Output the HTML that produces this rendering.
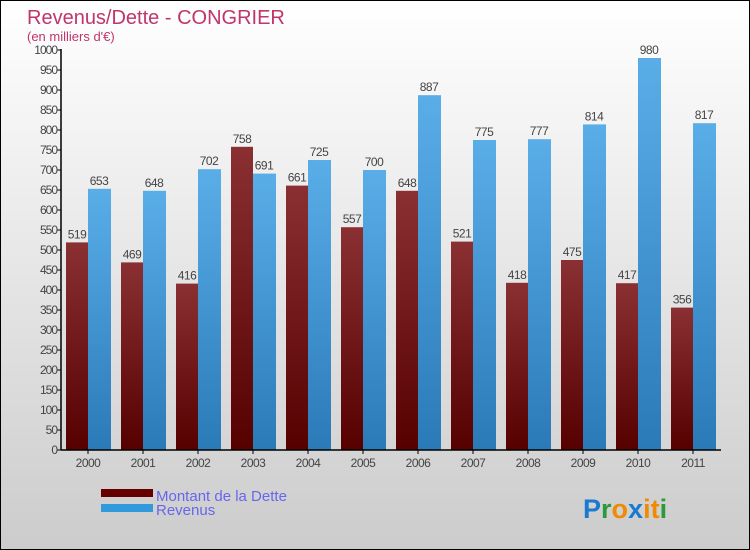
<!DOCTYPE html>
<html><head><meta charset="utf-8"><style>
body{margin:0;}
#c{position:relative;width:748px;height:548px;border:1px solid #000;background:linear-gradient(#ffffff,#cccccc);font-family:"Liberation Sans",sans-serif;overflow:hidden}
</style></head><body>
<div id="c">
<svg id="s" width="748" height="548" xmlns="http://www.w3.org/2000/svg">
<defs>
<linearGradient id="gd" x1="0" y1="0" x2="0" y2="1"><stop offset="0" stop-color="#8a3033"/><stop offset="1" stop-color="#560000"/></linearGradient>
<linearGradient id="gr" x1="0" y1="0" x2="0" y2="1"><stop offset="0" stop-color="#5aaee8"/><stop offset="1" stop-color="#2a7ab8"/></linearGradient>
</defs>
<text x="26" y="23" font-size="20" fill="#c0356a">Revenus/Dette - CONGRIER</text>
<text x="26" y="40" font-size="13" fill="#c0356a">(en milliers d'€)</text>
<g id="bars"></g>
<g id="axes"></g>
<rect x="100" y="488" width="52" height="8" fill="#660000"/>
<rect x="100" y="503" width="52" height="8" fill="#3399dd"/>
<text x="155" y="500" font-size="15" fill="#6666ee">Montant de la Dette</text>
<text x="155" y="514" font-size="15" fill="#6666ee">Revenus</text>
<text x="582" y="517" font-size="27" font-weight="bold"><tspan fill="#1a7ad0">P</tspan><tspan fill="#2a9a3a">r</tspan><tspan fill="#f08a00">o</tspan><tspan fill="#1a7ad0">x</tspan><tspan fill="#f08a00">i</tspan><tspan fill="#f08a00">t</tspan><tspan fill="#2a9a3a">i</tspan></text>
</svg></div>
<script>
const categories=["2000","2001","2002","2003","2004","2005","2006","2007","2008","2009","2010","2011"];
const dette=[519,469,416,758,661,557,648,521,418,475,417,356];
const revenus=[653,648,702,691,725,700,887,775,777,814,980,817];
const yTicks=[0,50,100,150,200,250,300,350,400,450,500,550,600,650,700,750,800,850,900,950,1000];
const NS="http://www.w3.org/2000/svg";
const x0=60,cw=55,y0=449,ys=0.4;
const X=i=>x0+i*cw, Y=v=>y0-v*ys;
function mk(t,a,p){const e=document.createElementNS(NS,t);for(const k in a)e.setAttribute(k,a[k]);p.appendChild(e);return e;}
const bars=document.getElementById('bars'),axes=document.getElementById('axes');
categories.forEach((c,i)=>{
 const d=mk('rect',{x:X(i)+5,y:Y(dette[i]),width:22,height:dette[i]*ys,fill:'url(#gd)'},bars);
 
 
 const r=mk('rect',{x:X(i)+27,y:Y(revenus[i]),width:23,height:revenus[i]*ys,fill:'url(#gr)'},bars);
 
 
 const t1=mk('text',{x:X(i)+16,y:Y(dette[i])-4,'font-size':12,fill:'#444','text-anchor':'middle','letter-spacing':'-0.5'},bars);t1.textContent=dette[i];
 
 
 const t2=mk('text',{x:X(i)+38,y:Y(revenus[i])-4,'font-size':12,fill:'#444','text-anchor':'middle','letter-spacing':'-0.5'},bars);t2.textContent=revenus[i];
 
 
 mk('line',{x1:X(i)+27,x2:X(i)+27,y1:y0,y2:y0+4,stroke:'#000'},axes);
 const xl=mk('text',{x:X(i)+27,y:y0+17,'font-size':12,fill:'#444','text-anchor':'middle','letter-spacing':'-0.5'},axes);xl.textContent=c;
 
 
});
yTicks.forEach(v=>{
 mk('line',{x1:x0-4,x2:x0,y1:Y(v),y2:Y(v),stroke:'#000'},axes);
 const t=mk('text',{x:x0-4,y:Y(v)+4,'font-size':12,fill:'#444','text-anchor':'end','letter-spacing':'-1'},axes);t.textContent=v;
 
 
});
const ya=mk('line',{x1:x0,x2:x0,y1:Y(1000)-1,y2:y0,stroke:'#000','stroke-width':1.5},axes);


const xa=mk('line',{x1:x0,x2:x0+12*cw,y1:y0,y2:y0,stroke:'#000','stroke-width':1.5},axes);


</script>
</body></html>
